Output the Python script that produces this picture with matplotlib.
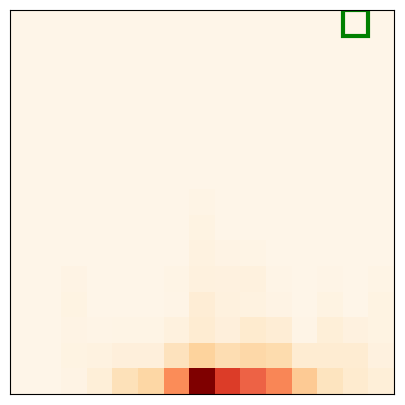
import matplotlib
matplotlib.use('Agg')
import matplotlib.pyplot as plt
import matplotlib.patches as patches
import numpy as np

# 15x15 grid, row 0 = top
base = 0.012
row_07 = [base] * 7 + [0.025] + [base] * 7
row_08 = [base] * 7 + [0.035] + [base] * 7
row_09 = [base] * 7 + [0.04, 0.03, 0.025] + [base] * 5
row_10 = [0.012, 0.015, 0.03, 0.012, 0.012, 0.012, 0.025, 0.05, 0.045, 0.05, 0.02, 0.015, 0.02, 0.015, 0.025]
row_11 = [0.012, 0.015, 0.035, 0.015, 0.015, 0.015, 0.02, 0.08, 0.05, 0.04, 0.03, 0.015, 0.035, 0.015, 0.035]
row_12 = [0.015, 0.015, 0.03, 0.02, 0.025, 0.025, 0.05, 0.09, 0.06, 0.1, 0.08, 0.02, 0.07, 0.045, 0.035]
row_13 = [0.015, 0.015, 0.035, 0.04, 0.06, 0.06, 0.16, 0.25, 0.19, 0.22, 0.2, 0.09, 0.09, 0.09, 0.045]
row_14 = [0.015, 0.015, 0.03, 0.07, 0.17, 0.23, 0.5, 1.0, 0.72, 0.63, 0.52, 0.3, 0.15, 0.1, 0.07]

grid = np.array([[base] * 15] * 7 + [row_07, row_08, row_09, row_10, row_11, row_12, row_13, row_14])

marker_row = 0
marker_col = 13

fig = plt.figure(figsize=(4.05, 4.05), dpi=100)
ax = fig.add_axes([10 / 405, 11 / 405, 384 / 405, 384 / 405])
ax.imshow(grid, cmap='OrRd', vmin=0, vmax=1, aspect='auto', interpolation='nearest')
ax.add_patch(patches.Rectangle((marker_col - 0.5, marker_row - 0.5), 1, 1,
                               fill=False, edgecolor='green', linewidth=3))
ax.set_xticks([])
ax.set_yticks([])
fig.savefig('out.png', dpi=100)
